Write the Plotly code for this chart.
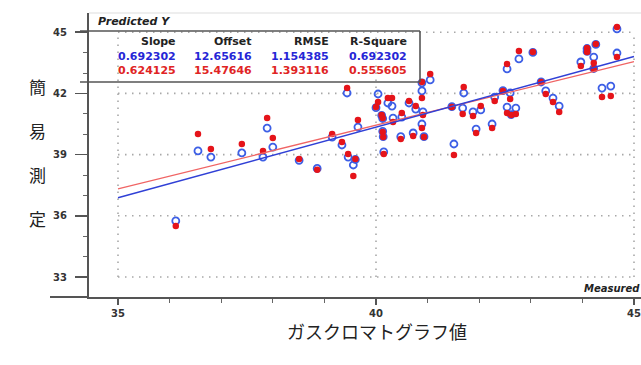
import plotly.graph_objects as go

# ---------------- data ----------------
measured = [36.12, 36.55, 36.80, 37.40, 37.81, 37.89, 38.00, 38.51, 38.86, 39.15,
            39.34, 39.44, 39.46, 39.56, 39.60, 39.65, 40.04, 40.00, 40.11, 40.13,
            40.13, 40.14, 40.15, 40.23, 40.31, 40.33, 40.50, 40.48, 40.64, 40.72,
            40.77, 40.89, 40.89, 40.91, 40.93, 40.89, 41.05, 41.47, 41.51, 41.68,
            41.70, 41.88, 41.94, 42.03, 42.25, 42.30, 42.46, 42.54, 42.54, 42.60,
            42.62, 42.71, 42.77, 43.04, 43.20, 43.29, 43.43, 43.55, 43.97, 44.09,
            44.09, 44.22, 44.26, 44.22, 44.38, 44.55, 44.67, 44.67]
pred_blue = [35.75, 39.18, 38.88, 39.08, 38.88, 40.30, 39.37, 38.72, 38.32, 39.86,
             39.47, 42.02, 38.88, 38.49, 38.76, 40.35, 41.97, 41.30, 40.92, 40.77,
             40.14, 39.88, 39.13, 41.53, 41.38, 40.79, 40.84, 39.88, 41.53, 40.06,
             41.23, 40.50, 42.12, 41.09, 39.88, 42.52, 42.66, 41.35, 39.52, 41.28,
             42.02, 41.09, 40.25, 41.19, 40.50, 41.82, 42.14, 43.20, 41.33, 42.02,
             40.96, 41.28, 43.69, 44.01, 42.56, 42.12, 41.77, 41.38, 43.54, 44.20,
             44.06, 43.78, 44.40, 43.22, 42.26, 42.36, 45.16, 43.98]
pred_red = [35.50, 40.01, 39.27, 39.52, 39.18, 40.79, 39.81, 38.78, 38.26, 40.01,
            39.62, 42.26, 39.03, 37.95, 38.78, 40.70, 41.58, 41.33, 40.94, 40.79,
            40.11, 39.86, 39.03, 41.77, 41.77, 40.60, 41.04, 39.76, 41.63, 39.91,
            41.38, 40.30, 41.77, 40.94, 39.86, 42.56, 42.95, 41.33, 38.98, 40.99,
            42.31, 40.89, 40.06, 41.38, 40.30, 41.63, 42.12, 43.44, 41.04, 41.73,
            40.94, 40.99, 44.08, 44.03, 42.56, 41.97, 41.58, 41.09, 43.34, 44.23,
            44.03, 43.49, 44.42, 43.20, 41.82, 41.87, 45.25, 43.78]

stat_headers = ["Slope", "Offset", "RMSE", "R-Square"]
stats_blue = ["0.692302", "12.65616", "1.154385", "0.692302"]
stats_red = ["0.624125", "15.47646", "1.393116", "0.555605"]
slope_blue, offset_blue = 0.692302, 12.65616
slope_red, offset_red = 0.624125, 15.47646

x_major = [35, 40, 45]
y_major = [33, 36, 39, 42, 45]
x_tick_labels = ["35", "40", "45"]
y_tick_labels = ["33", "36", "39", "42", "45"]
y_title_chars = ["簡", "易", "測", "定"]
x_title = "ガスクロマトグラフ値"

# ---------------- layout geometry (page pixels; body margin removed below) ----------------
W, H = 641, 365
L, T = 89, 13
B = H - 297
R = 0
PW, PH = W - L - R, H - T - B


def px(xp):
    return (xp - L) / PW


def py(yp):
    return (H - B - yp) / PH


BLUE_TXT = "#2626d6"
RED_TXT = "#e02424"

fig = go.Figure()

line_x = [x_major[0], x_major[-1]]
fig.add_trace(go.Scatter(x=measured, y=pred_blue, mode="markers",
                         marker=dict(symbol="circle-open", size=7, color="#3d5fe6",
                                     line=dict(width=1.8, color="#3d5fe6")),
                         hoverinfo="skip", showlegend=False))
fig.add_trace(go.Scatter(x=measured, y=pred_red, mode="markers",
                         marker=dict(symbol="circle", size=6.5, color="#e5141a"),
                         hoverinfo="skip", showlegend=False))
fig.add_trace(go.Scatter(x=line_x, y=[slope_red * v + offset_red for v in line_x],
                         mode="lines", line=dict(color="#f06464", width=1.3),
                         hoverinfo="skip", showlegend=False))
fig.add_trace(go.Scatter(x=line_x, y=[slope_blue * v + offset_blue for v in line_x],
                         mode="lines", line=dict(color="#3040d6", width=1.5),
                         hoverinfo="skip", showlegend=False))

shapes = []
grid = dict(color="#a8a8a8", width=1.6, dash="1.5px,5.5px")
for xv in x_major:
    shapes.append(dict(type="line", xref="x", yref="y", x0=xv, x1=xv,
                       y0=y_major[0], y1=y_major[-1], line=grid, layer="below"))
for yv in y_major:
    shapes.append(dict(type="line", xref="x", yref="y", x0=x_major[0], x1=x_major[-1],
                       y0=yv, y1=yv, line=grid, layer="below"))
# stats box (white, hides grid)
shapes.append(dict(type="rect", xref="paper", yref="paper", x0=px(89), x1=px(420),
                   y0=py(82), y1=py(31), fillcolor="white", line=dict(width=0),
                   layer="below"))
frame = dict(color="#555555", width=1.6)
shapes.append(dict(type="line", xref="paper", yref="paper", x0=px(80), x1=px(420),
                   y0=py(31), y1=py(31), line=frame))
shapes.append(dict(type="line", xref="paper", yref="paper", x0=px(80), x1=px(420),
                   y0=py(82), y1=py(82), line=frame))
shapes.append(dict(type="line", xref="paper", yref="paper", x0=px(420), x1=px(420),
                   y0=py(82), y1=py(31), line=frame))
# top faint frame
shapes.append(dict(type="line", xref="paper", yref="paper", x0=0, x1=1,
                   y0=1, y1=1, line=dict(color="#dddddd", width=1)))
# x axis extension to the left
shapes.append(dict(type="line", xref="paper", yref="paper", x0=px(50), x1=0,
                   y0=0, y1=0, line=dict(color="#555555", width=2)))

annotations = []
annotations.append(dict(text="<b><i>Predicted Y</i></b>", xref="paper", yref="paper",
                        x=px(96), y=py(22), xanchor="left", yanchor="middle",
                        showarrow=False, font=dict(family="DejaVu Sans", size=11, color="#222")))
col_right = [178, 254, 331, 409]
for i in range(4):
    annotations.append(dict(text=stat_headers[i], xref="paper", yref="paper",
                            x=px(col_right[i]), y=py(42), xanchor="right", yanchor="middle",
                            showarrow=False,
                            font=dict(family="DejaVu Sans", size=11, color="#222", weight="bold")))
    annotations.append(dict(text=stats_blue[i], xref="paper", yref="paper",
                            x=px(col_right[i]), y=py(56), xanchor="right", yanchor="middle",
                            showarrow=False,
                            font=dict(family="DejaVu Sans", size=11, color=BLUE_TXT, weight="bold")))
    annotations.append(dict(text=stats_red[i], xref="paper", yref="paper",
                            x=px(col_right[i]), y=py(71), xanchor="right", yanchor="middle",
                            showarrow=False,
                            font=dict(family="DejaVu Sans", size=11, color=RED_TXT, weight="bold")))
annotations.append(dict(text="<b><i>Measured</i></b>", xref="paper", yref="paper",
                        x=px(642), y=py(288), xanchor="right", yanchor="middle",
                        showarrow=False, font=dict(family="DejaVu Sans", size=10, color="#222")))
for k, ch in enumerate(y_title_chars):
    annotations.append(dict(text=ch, xref="paper", yref="paper",
                            x=px(37), y=py(86 + 44 * k), xanchor="center", yanchor="middle",
                            showarrow=False,
                            font=dict(family="Noto Sans CJK JP", size=17, color="#222")))
annotations.append(dict(text=x_title, xref="paper", yref="paper",
                        x=px(377), y=py(331), xanchor="center", yanchor="middle",
                        showarrow=False,
                        font=dict(family="Noto Sans CJK JP", size=18, color="#222")))

tickfont = dict(family="DejaVu Sans", size=10, color="#333333", weight="bold")
fig.update_layout(
    width=W, height=H,
    margin=dict(l=L, r=R, t=T, b=B, pad=0, autoexpand=False),
    paper_bgcolor="white", plot_bgcolor="white",
    showlegend=False, hovermode=False,
    shapes=shapes, annotations=annotations,
    xaxis=dict(range=[35 - (118 - 89) / 51.6, 35 + (641 - 118) / 51.6],
               tickvals=x_major, ticktext=x_tick_labels, showgrid=False, zeroline=False,
               showline=True, linecolor="#555555", linewidth=2,
               ticks="outside", ticklen=6, tickwidth=1.5, tickcolor="#555555",
               minor=dict(dtick=1, ticks="outside", ticklen=4, tickwidth=1, tickcolor="#666666",
                          showgrid=False),
               tickfont=tickfont, ticklabeloverflow="allow", automargin=False,
               fixedrange=True),
    yaxis=dict(range=[33 - (297 - 277) / 20.4, 33 + (277 - 13) / 20.4],
               tickvals=y_major, ticktext=y_tick_labels, showgrid=False, zeroline=False,
               showline=True, linecolor="#555555", linewidth=2,
               ticks="outside", ticklen=12, tickwidth=1.5, tickcolor="#555555",
               minor=dict(dtick=1, ticks="outside", ticklen=4, tickwidth=1, tickcolor="#666666",
                          showgrid=False),
               tickfont=tickfont, ticklabelstandoff=6, automargin=False, fixedrange=True),
)

fig.write_html("out.html", config={"displayModeBar": False, "staticPlot": True},
               post_script="document.body.style.margin='0';document.body.style.overflow='hidden';")
